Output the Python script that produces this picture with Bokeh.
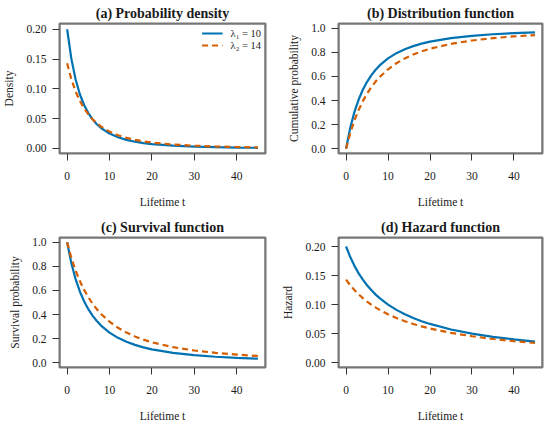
from bokeh.plotting import figure
from bokeh.layouts import gridplot
from bokeh.models import Range1d, FixedTicker, PrintfTickFormatter, BoxAnnotation
from bokeh.embed import file_html
from bokeh.resources import INLINE

# ---- data ----
t = [0, 1, 2, 3, 4, 5, 6, 7, 8, 10, 12, 14, 16, 18, 20, 25, 30, 35, 40, 45]

dens1 = [0.2000, 0.1503, 0.1157, 0.0910, 0.0729, 0.0593, 0.0488, 0.0407, 0.0343, 0.0250,
         0.01878, 0.01447, 0.01138, 0.00911, 0.00741, 0.00466, 0.00313, 0.00219, 0.00160, 0.00120]
dens2 = [0.1429, 0.1161, 0.0957, 0.0798, 0.0672, 0.0572, 0.0490, 0.0423, 0.0368, 0.02836,
         0.02230, 0.01786, 0.01452, 0.01196, 0.00998, 0.00661, 0.00460, 0.00333, 0.00249, 0.00191]

cdf1 = [0.0, 0.1736, 0.3056, 0.4083, 0.4898, 0.5556, 0.6094, 0.6540, 0.6914, 0.7500,
        0.7934, 0.8264, 0.8521, 0.8724, 0.8889, 0.9184, 0.9375, 0.9506, 0.9600, 0.9669]
cdf2 = [0.0, 0.1289, 0.2344, 0.3218, 0.3951, 0.4571, 0.5100, 0.5556, 0.5950, 0.6597,
        0.7101, 0.7500, 0.7822, 0.8086, 0.8304, 0.8711, 0.8988, 0.9184, 0.9328, 0.9437]

surv1 = [1.0, 0.8264, 0.6944, 0.5917, 0.5102, 0.4444, 0.3906, 0.3460, 0.3086, 0.2500,
         0.2066, 0.1736, 0.1479, 0.1276, 0.1111, 0.0816, 0.0625, 0.0494, 0.0400, 0.0331]
surv2 = [1.0, 0.8711, 0.7656, 0.6782, 0.6049, 0.5429, 0.4900, 0.4444, 0.4050, 0.3403,
         0.2899, 0.2500, 0.2178, 0.1914, 0.1696, 0.1289, 0.1012, 0.0816, 0.0672, 0.0563]

haz1 = [0.2000, 0.1818, 0.1667, 0.1538, 0.1429, 0.1333, 0.1250, 0.1176, 0.1111, 0.1000,
        0.0909, 0.0833, 0.0769, 0.0714, 0.0667, 0.0571, 0.0500, 0.0444, 0.0400, 0.0364]
haz2 = [0.1429, 0.1333, 0.1250, 0.1176, 0.1111, 0.1053, 0.1000, 0.0952, 0.0909, 0.0833,
        0.0769, 0.0714, 0.0667, 0.0625, 0.0588, 0.0513, 0.0455, 0.0408, 0.0370, 0.0339]

x_ticks = [0, 10, 20, 30, 40]
ticks_small = [0.0, 0.05, 0.10, 0.15, 0.20]
ticks_prob = [0.0, 0.2, 0.4, 0.6, 0.8, 1.0]

labels = ["\u03bb\u2081 = 10", "\u03bb\u2082 = 14"]
titles = ["(a) Probability density", "(b) Distribution function",
          "(c) Survival function", "(d) Hazard function"]
ylabels = ["Density", "Cumulative probability", "Survival probability", "Hazard"]
xlabel = "Lifetime t"

BLUE = "#0072B2"
ORANGE = "#D55E00"
FONT = "Liberation Serif"
TXT = "#1a1a1a"
BOX = "#777777"


def make(title, ylab, y1, y2, yr, yticks, fmt, w, h, bl, br, bt, bb, legend=False):
    xr = Range1d(-1.8, 46.8)
    yrng = Range1d(*yr)
    p = figure(width=w, height=h, output_backend="svg", toolbar_location=None,
               x_range=xr, y_range=yrng,
               min_border_left=bl, min_border_right=br, min_border_top=bt,
               min_border_bottom=bb, title=title)
    p.title.align = "center"
    p.title.text_font = FONT
    p.title.text_font_style = "bold"
    p.title.text_font_size = "14px"
    p.title.text_color = TXT
    p.title.standoff = 6
    p.grid.visible = False
    p.outline_line_color = BOX
    p.outline_line_width = 2
    p.outline_line_alpha = 1.0
    p.background_fill_color = "white"
    p.border_fill_color = "white"

    if legend:
        p.line(t, y1, line_color=BLUE, line_width=2.2, legend_label=labels[0])
        p.line(t, y2, line_color=ORANGE, line_width=2.2, line_dash="6 4",
               legend_label=labels[1])
    else:
        p.line(t, y1, line_color=BLUE, line_width=2.2)
        p.line(t, y2, line_color=ORANGE, line_width=2.2, line_dash="6 4")

    # frame box drawn at the range limits
    p.add_layout(BoxAnnotation(left=xr.start, right=xr.end, bottom=yrng.start,
                               top=yrng.end, fill_alpha=0, line_color=BOX,
                               line_width=2, line_alpha=1.0, level="overlay"))

    bottom = p.below[0]
    left = p.left[0]
    bottom.ticker = FixedTicker(ticks=x_ticks)
    left.ticker = FixedTicker(ticks=yticks)
    left.formatter = PrintfTickFormatter(format=fmt)
    bottom.axis_label = xlabel
    left.axis_label = ylab
    for ax in (bottom, left):
        ax.axis_line_color = None
        ax.major_tick_out = 7
        ax.major_tick_in = 0
        ax.minor_tick_line_color = None
        ax.major_tick_line_color = "#333333"
        ax.major_tick_line_width = 1
        ax.major_label_text_font = FONT
        ax.major_label_text_font_size = "11.5px"
        ax.major_label_text_color = TXT
        ax.axis_label_text_font = FONT
        ax.axis_label_text_font_size = "11.5px"
        ax.axis_label_text_font_style = "normal"
        ax.axis_label_text_color = TXT
    bottom.major_label_standoff = 11
    bottom.axis_label_standoff = 13
    left.major_label_standoff = 6
    left.axis_label_standoff = 8

    if legend:
        lg = p.legend[0]
        lg.location = "top_right"
        lg.border_line_color = None
        lg.background_fill_alpha = 0
        lg.label_text_font = FONT
        lg.label_text_font_size = "10.5px"
        lg.label_text_color = TXT
        lg.glyph_width = 21
        lg.glyph_height = 12
        lg.label_height = 12
        lg.label_standoff = 8
        lg.spacing = 0
        lg.padding = 3
        lg.margin = 4
    return p


pa = make(titles[0], ylabels[0], dens1, dens2, (-0.0084, 0.2096), ticks_small, "%.2f",
          275, 213, 59, 10, 23, 60, legend=True)
pb = make(titles[1], ylabels[1], cdf1, cdf2, (-0.04, 1.04), ticks_prob, "%.1f",
          275, 213, 63, 8, 23, 60)
pc = make(titles[2], ylabels[2], surv1, surv2, (-0.04, 1.04), ticks_prob, "%.1f",
          275, 213, 59, 9, 23, 59)
pd = make(titles[3], ylabels[3], haz1, haz2, (-0.0083, 0.2155), ticks_small, "%.2f",
          275, 213, 63, 8, 24, 59)

grid = gridplot([[pa, pb], [pc, pd]], toolbar_location=None)

open("out.html", "w").write(file_html(grid, INLINE))
